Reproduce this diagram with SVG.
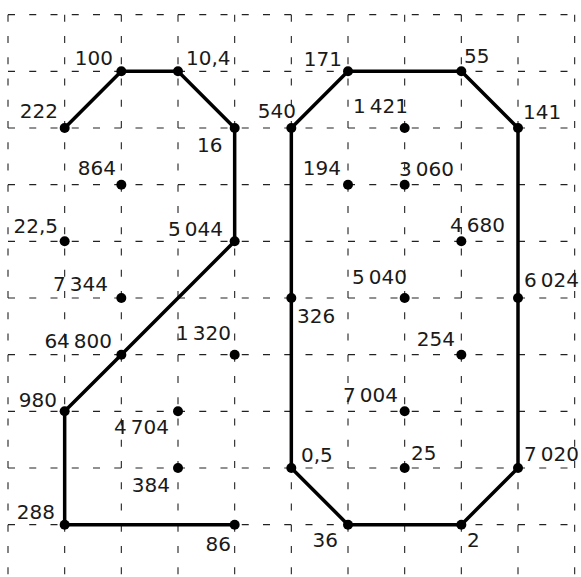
<svg xmlns="http://www.w3.org/2000/svg" width="581" height="577" viewBox="0 0 581 577">
<style>
.grid{fill:none;stroke:#222;stroke-width:1.1;stroke-dasharray:7 14.25}
.edge{stroke:#000;stroke-width:3.5;stroke-linecap:round}
.dot{fill:#000}
text{font-family:"DejaVu Sans","Liberation Sans",sans-serif;font-size:20px;fill:#1a1a1a}
.e{text-anchor:end}
</style>
<rect width="581" height="577" fill="#fff"/>
<g id="grid">
<path class="grid" d="M8 14.67V577M64.67 14.67V577M121.33 14.67V577M178 14.67V577M234.67 14.67V577M291.33 14.67V577M348 14.67V577M404.67 14.67V577M461.33 14.67V577M518 14.67V577M574.67 14.67V577"/>
<path class="grid" d="M8 14.67H575M8 71.33H575M8 128H575M8 184.67H575M8 241.33H575M8 298H575M8 354.67H575M8 411.33H575M8 468H575M8 524.67H575"/>
</g>
<g id="connectors">
<line class="edge" x1="64.67" y1="128" x2="121.33" y2="71.33"/>
<line class="edge" x1="121.33" y1="71.33" x2="178" y2="71.33"/>
<line class="edge" x1="178" y1="71.33" x2="234.67" y2="128"/>
<line class="edge" x1="234.67" y1="128" x2="234.67" y2="241.33"/>
<line class="edge" x1="234.67" y1="241.33" x2="121.33" y2="354.67"/>
<line class="edge" x1="121.33" y1="354.67" x2="64.67" y2="411.33"/>
<line class="edge" x1="64.67" y1="411.33" x2="64.67" y2="524.67"/>
<line class="edge" x1="64.67" y1="524.67" x2="234.67" y2="524.67"/>
<line class="edge" x1="348" y1="71.33" x2="461.33" y2="71.33"/>
<line class="edge" x1="461.33" y1="71.33" x2="518" y2="128"/>
<line class="edge" x1="518" y1="128" x2="518" y2="298"/>
<line class="edge" x1="518" y1="298" x2="518" y2="468"/>
<line class="edge" x1="518" y1="468" x2="461.33" y2="524.67"/>
<line class="edge" x1="461.33" y1="524.67" x2="348" y2="524.67"/>
<line class="edge" x1="348" y1="524.67" x2="291.33" y2="468"/>
<line class="edge" x1="291.33" y1="468" x2="291.33" y2="298"/>
<line class="edge" x1="291.33" y1="298" x2="291.33" y2="128"/>
<line class="edge" x1="291.33" y1="128" x2="348" y2="71.33"/>
</g>
<g id="n222"><circle class="dot" cx="64.67" cy="128" r="5"/><text class="e" x="58" y="118">222</text></g>
<g id="n100"><circle class="dot" cx="121.33" cy="71.33" r="5"/><text class="e" x="113" y="65">100</text></g>
<g id="n10_4"><circle class="dot" cx="178" cy="71.33" r="5"/><text x="186" y="65">10,4</text></g>
<g id="n16"><circle class="dot" cx="234.67" cy="128" r="5"/><text x="197" y="152">16</text></g>
<g id="n864"><circle class="dot" cx="121.33" cy="184.67" r="5"/><text class="e" x="116" y="175">864</text></g>
<g id="n22_5"><circle class="dot" cx="64.67" cy="241.33" r="5"/><text class="e" x="58" y="233">22,5</text></g>
<g id="n5044"><circle class="dot" cx="234.67" cy="241.33" r="5"/><text class="e" x="223" y="236">5&#8201;044</text></g>
<g id="n7344"><circle class="dot" cx="121.33" cy="298" r="5"/><text class="e" x="108" y="291">7&#8201;344</text></g>
<g id="n64800"><circle class="dot" cx="121.33" cy="354.67" r="5"/><text class="e" x="112" y="348">64&#8201;800</text></g>
<g id="n1320"><circle class="dot" cx="234.67" cy="354.67" r="5"/><text class="e" x="231" y="340">1&#8201;320</text></g>
<g id="n980"><circle class="dot" cx="64.67" cy="411.33" r="5"/><text class="e" x="57" y="407">980</text></g>
<g id="n4704"><circle class="dot" cx="178" cy="411.33" r="5"/><text class="e" x="169" y="434">4&#8201;704</text></g>
<g id="n384"><circle class="dot" cx="178" cy="468" r="5"/><text class="e" x="170" y="492">384</text></g>
<g id="n288"><circle class="dot" cx="64.67" cy="524.67" r="5"/><text class="e" x="55" y="519">288</text></g>
<g id="n86"><circle class="dot" cx="234.67" cy="524.67" r="5"/><text class="e" x="231" y="551">86</text></g>
<g id="n540"><circle class="dot" cx="291.33" cy="128" r="5"/><text class="e" x="296" y="118">540</text></g>
<g id="n171"><circle class="dot" cx="348" cy="71.33" r="5"/><text class="e" x="342" y="66">171</text></g>
<g id="n55"><circle class="dot" cx="461.33" cy="71.33" r="5"/><text x="464" y="63">55</text></g>
<g id="n141"><circle class="dot" cx="518" cy="128" r="5"/><text x="523" y="119">141</text></g>
<g id="n1421"><circle class="dot" cx="404.67" cy="128" r="5"/><text class="e" x="408" y="113">1&#8201;421</text></g>
<g id="n194"><circle class="dot" cx="348" cy="184.67" r="5"/><text class="e" x="341" y="175">194</text></g>
<g id="n3060"><circle class="dot" cx="404.67" cy="184.67" r="5"/><text x="399" y="176">3&#8201;060</text></g>
<g id="n4680"><circle class="dot" cx="461.33" cy="241.33" r="5"/><text x="450" y="232">4&#8201;680</text></g>
<g id="n5040"><circle class="dot" cx="404.67" cy="298" r="5"/><text class="e" x="407" y="284">5&#8201;040</text></g>
<g id="n6024"><circle class="dot" cx="518" cy="298" r="5"/><text x="524" y="287">6&#8201;024</text></g>
<g id="n326"><circle class="dot" cx="291.33" cy="298" r="5"/><text x="297" y="323">326</text></g>
<g id="n254"><circle class="dot" cx="461.33" cy="354.67" r="5"/><text class="e" x="455" y="346">254</text></g>
<g id="n7004"><circle class="dot" cx="404.67" cy="411.33" r="5"/><text class="e" x="398" y="402">7&#8201;004</text></g>
<g id="n0_5"><circle class="dot" cx="291.33" cy="468" r="5"/><text x="301" y="462">0,5</text></g>
<g id="n25"><circle class="dot" cx="404.67" cy="468" r="5"/><text x="411" y="460">25</text></g>
<g id="n7020"><circle class="dot" cx="518" cy="468" r="5"/><text x="524" y="461">7&#8201;020</text></g>
<g id="n36"><circle class="dot" cx="348" cy="524.67" r="5"/><text class="e" x="338" y="547">36</text></g>
<g id="n2"><circle class="dot" cx="461.33" cy="524.67" r="5"/><text x="467" y="547">2</text></g>
</svg>
